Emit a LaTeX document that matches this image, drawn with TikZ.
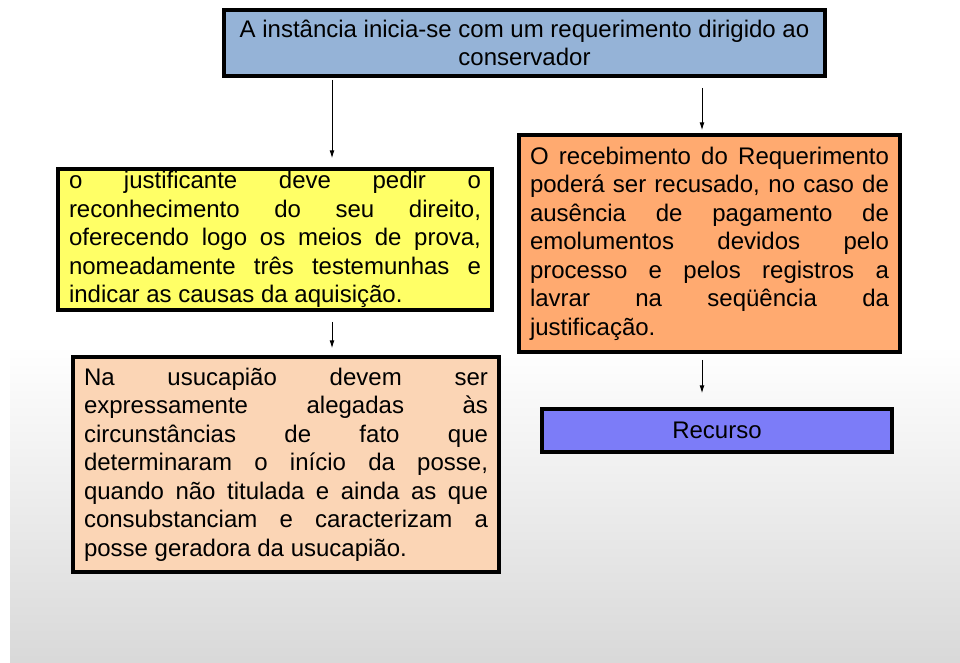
\documentclass[tikz,border=0pt]{standalone}
\usepackage{fontspec}
\setmainfont{Liberation Sans}
\usetikzlibrary{arrows.meta}
\tolerance=10000
\hbadness=10000
\hyphenpenalty=10000
\definecolor{azul}{HTML}{95B3D7}
\definecolor{amarelo}{HTML}{FFFF66}
\definecolor{laranja}{HTML}{FFAA70}
\definecolor{pessego}{HTML}{FBD5B5}
\definecolor{lilas}{HTML}{7C7CF8}
\begin{document}
\begin{tikzpicture}[x=1pt, y=-1pt,
    caixa/.style={draw=black, line width=3.5pt, inner xsep=11pt, inner ysep=1pt,
      font=\fontsize{24}{28.5}\selectfont},
    seta/.style={-{Latex[length=8pt, width=5pt]}, line width=1pt}]
        \useasboundingbox (0, 0) rectangle (960, 662);
        % fundo
        \shade[top color=white, bottom color=black!15] (10, 345) rectangle (960, 662);
        % caixas
        \node[caixa, fill=azul, minimum width=601pt, minimum height=66pt, align=center]
          (inicio) at (524.5, 43) {A instância inicia-se com um requerimento dirigido ao\\conservador};
        \node[caixa, fill=amarelo, text width=412pt, minimum height=141pt, align=justify]
          (justif) at (275, 239.5) {o justificante deve pedir o\linebreak
          reconhecimento do seu direito,\linebreak
          oferecendo logo os meios de prova,\linebreak
          nomeadamente três testemunhas e\linebreak
          indicar as causas da aquisição.};
        \node[caixa, fill=laranja, text width=359pt, minimum height=217pt, align=justify]
          (receb) at (709.5, 243.5) {O recebimento do Requerimento\linebreak
          poderá ser recusado, no caso de\linebreak
          ausência de pagamento de\linebreak
          emolumentos devidos pelo\linebreak
          processo e pelos registros a\linebreak
          lavrar na seqüência da\linebreak
          justificação.};
        \node[caixa, fill=pessego, text width=404pt, minimum height=215pt, align=justify]
          (usucap) at (286, 464.5) {Na usucapião devem ser\linebreak
          expressamente alegadas às\linebreak
          circunstâncias de fato que\linebreak
          determinaram o início da posse,\linebreak
          quando não titulada e ainda as que\linebreak
          consubstanciam e caracterizam a\linebreak
          posse geradora da usucapião.};
        \node[caixa, fill=lilas, minimum width=350pt, minimum height=43pt]
          (recurso) at (717, 430.5) {Recurso};
        % setas
        \coordinate (colE) at (332, 0);
        \coordinate (colD) at (702, 0);
        \draw[seta, shorten <=2pt, shorten >=9pt] (inicio.south -| colE) -- (justif.north -| colE);
        \draw[seta, shorten <=10pt, shorten >=3pt] (inicio.south -| colD) -- (receb.north -| colD);
        \draw[seta, shorten <=10pt, shorten >=7pt] (justif.south -| colE) -- (usucap.north -| colE);
        \draw[seta, shorten <=6pt, shorten >=14pt] (receb.south -| colD) -- (recurso.north -| colD);
      \end{tikzpicture}
\end{document}
